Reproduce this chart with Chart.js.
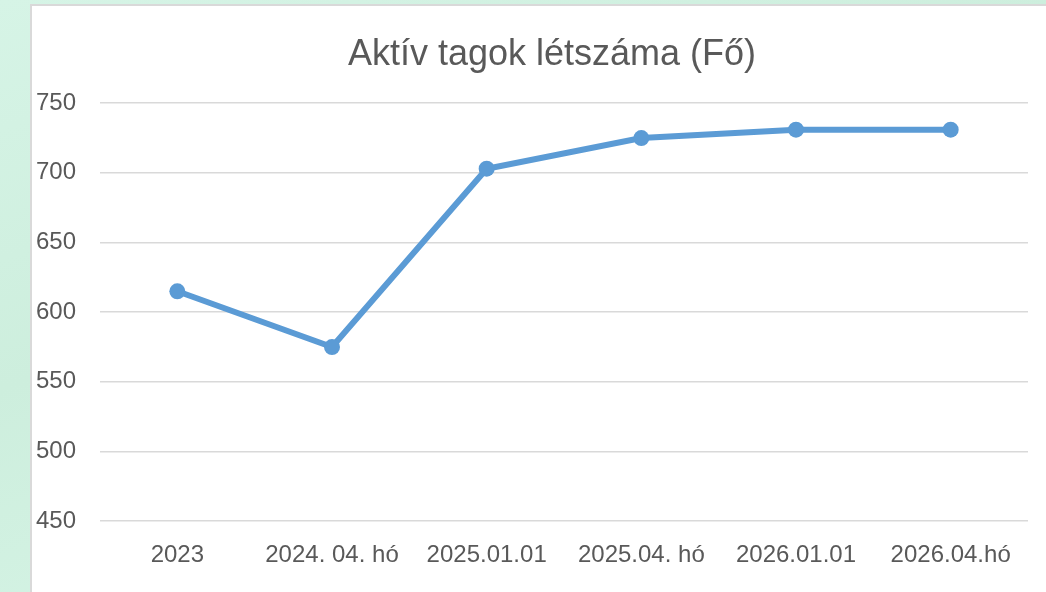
<!DOCTYPE html>
<html>
<head>
<meta charset="utf-8">
<script src="https://cdn.jsdelivr.net/npm/chart.js@4"></script>
<style>
  html, body { margin: 0; padding: 0; width: 1046px; height: 592px; overflow: hidden; }
  body { background: linear-gradient(160deg, #d6f4e6 0%, #cdeedd 40%, #d4f3e4 70%, #daf5e9 100%); position: relative; }
  #panel { position: absolute; left: 30px; top: 4px; width: 1030px; height: 600px; background: #fff; border: 2px solid #d9d9d9; box-sizing: border-box; }
  #wrap { position: absolute; left: 32px; top: 6px; width: 1040px; height: 586px; }
</style>
</head>
<body>
<div id="panel"></div>
<div id="wrap"><canvas id="c" width="1040" height="586"></canvas></div>
<script>
const categories = ["2023", "2024. 04. hó", "2025.01.01", "2025.04. hó", "2026.01.01", "2026.04.hó"];
const values = [615, 575, 703, 725, 731, 731];
const chartTitle = "Aktív tagok létszáma (Fő)";
const yMin = 450, yMax = 750, yStep = 50;

const textColor = "#595959";
const fontFam = "'Liberation Sans', Arial, sans-serif";

new Chart(document.getElementById("c"), {
  type: "line",
  data: {
    labels: categories,
    datasets: [{
      data: values,
      borderColor: "#5b9bd5",
      backgroundColor: "#5b9bd5",
      borderWidth: 6,
      pointRadius: 8,
      pointHoverRadius: 8,
      pointBackgroundColor: "#5b9bd5",
      pointBorderWidth: 0,
      tension: 0,
      fill: false
    }]
  },
  options: {
    responsive: false,
    animation: false,
    devicePixelRatio: 1,
    layout: { padding: { top: 17, bottom: 2, left: 4, right: 4 } },
    plugins: {
      legend: { display: false },
      tooltip: { enabled: false },
      title: {
        display: true,
        text: chartTitle,
        color: textColor,
        font: { family: fontFam, size: 36, weight: "normal" },
        padding: { top: 10, bottom: 27 }
      }
    },
    scales: {
      x: {
        offset: true,
        grid: { display: false, drawTicks: false },
        border: { display: false },
        ticks: { color: textColor, font: { family: fontFam, size: 24 }, padding: 20, maxRotation: 0, autoSkip: false }
      },
      y: {
        min: yMin, max: yMax,
        afterFit: (s) => { s.width = 64; },
        grid: { color: "#d9d9d9", lineWidth: 1.5, drawTicks: false },
        border: { display: false },
        ticks: { stepSize: yStep, color: textColor, font: { family: fontFam, size: 24 }, padding: 24 }
      },
      yr: {
        position: "right",
        display: true,
        min: yMin, max: yMax,
        afterFit: (s) => { s.width = 40; },
        grid: { display: false, drawTicks: false },
        border: { display: false },
        ticks: { display: false }
      }
    }
  }
});
</script>
</body>
</html>
